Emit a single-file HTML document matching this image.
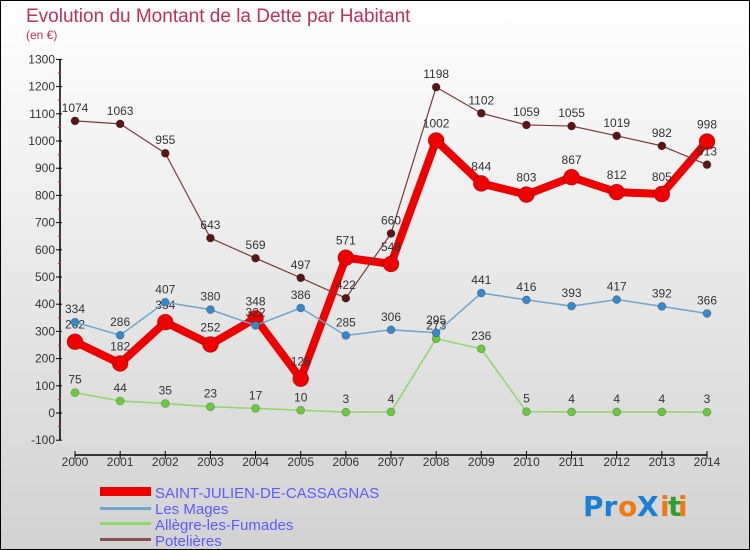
<!DOCTYPE html>
<html><head><meta charset="utf-8">
<style>
html,body{margin:0;padding:0}
body{width:750px;height:550px;overflow:hidden;font-family:"Liberation Sans",sans-serif}
svg{display:block}
</style></head>
<body>
<svg id="chart" width="750" height="550" xmlns="http://www.w3.org/2000/svg">
<defs>
<linearGradient id="bg" x1="0" y1="0" x2="0" y2="1">
<stop offset="0" stop-color="#ffffff"/><stop offset="1" stop-color="#d2d2d2"/>
</linearGradient>
</defs>
<rect x="0.5" y="0.5" width="749" height="549" fill="url(#bg)" stroke="#000" stroke-width="1"/>
<text x="26" y="22" font-size="19" fill="#c0305a">Evolution du Montant de la Dette par Habitant</text>
<text x="26" y="39" font-size="12" fill="#c0305a">(en €)</text>
<g id="axes"></g>
<g id="series"></g>
<g id="legend">
<rect x="100" y="487" width="51" height="9" fill="#ee0000"/>
<text x="155" y="498" font-size="15" fill="#5b5bff">SAINT-JULIEN-DE-CASSAGNAS</text>
<rect x="100" y="507" width="51" height="3" fill="#6fa6cc"/>
<text x="155" y="514" font-size="15" fill="#5b5bff">Les Mages</text>
<rect x="100" y="522" width="51" height="3" fill="#8ed86a"/>
<text x="155" y="530" font-size="15" fill="#5b5bff">Allègre-les-Fumades</text>
<rect x="100" y="538" width="51" height="3" fill="#8a5050"/>
<text x="155" y="546" font-size="15" fill="#5b5bff">Potelières</text>
</g>
<g font-size="28" font-weight="bold" font-family="'DejaVu Sans',sans-serif">
<text x="583" y="516" fill="#1a7fd4">Pr</text><text x="618" y="516" fill="#f07a10">o</text><text x="637" y="516" fill="#1a7fd4">X</text><text x="660" y="516" fill="#f07a10">i</text><text x="668" y="516" fill="#2fa030">t</text><text x="678" y="516" fill="#f07a10">i</text>
</g>
</svg>
<script>
const years=[2000,2001,2002,2003,2004,2005,2006,2007,2008,2009,2010,2011,2012,2013,2014];
const yTicks=[-100,0,100,200,300,400,500,600,700,800,900,1000,1100,1200,1300];
const saintJulien=[262,182,334,252,348,126,571,548,1002,844,803,867,812,805,998];
const lesMages=[334,286,407,380,322,386,285,306,295,441,416,393,417,392,366];
const allegre=[75,44,35,23,17,10,3,4,273,236,5,4,4,4,3];
const potelieres=[1074,1063,955,643,569,497,422,660,1198,1102,1059,1055,1019,982,913];

const NS="http://www.w3.org/2000/svg";
function xs(i){return 75+(707-75)*(years[i]-2000)/(2014-2000);}
function ys(v){return 413-v*(353.6/1300);}
function mk(tag,attrs,parent){const e=document.createElementNS(NS,tag);for(const k in attrs)e.setAttribute(k,attrs[k]);parent.appendChild(e);return e;}
const axes=document.getElementById('axes');
const ax=mk('line',{x1:60,y1:ys(1300),x2:60,y2:ys(-100),stroke:'#000','stroke-width':1.5},axes);


yTicks.forEach(t=>{
  const y=ys(t);
  mk('line',{x1:56,y1:y,x2:62,y2:y,stroke:'#000'},axes);
  if(t<1300) mk('line',{x1:58,y1:ys(t+50),x2:61,y2:ys(t+50),stroke:'#e02020'},axes);
  const tx=mk('text',{x:55,y:y+4,'font-size':12,fill:'#333','text-anchor':'end'},axes);
  tx.textContent=t;
  
  
});
const xa=mk('line',{x1:75,y1:455,x2:707,y2:455,stroke:'#000','stroke-width':1.5},axes);


years.forEach((yr,i)=>{
  const x=xs(i);
  mk('line',{x1:x,y1:451,x2:x,y2:459,stroke:'#000'},axes);
  const tx=mk('text',{x:x,y:466,'font-size':12,fill:'#333','text-anchor':'middle'},axes);
  tx.textContent=yr;
  
  
});
const sg=document.getElementById('series');
function drawSeries(vals,name,color,width,r,dot){
  const g=mk('g',{},sg);
  
  
  const pts=vals.map((v,i)=>xs(i)+','+ys(v)).join(' ');
  const pl=mk('polyline',{points:pts,fill:'none',stroke:color,'stroke-width':width,'stroke-linejoin':'round'},g);
  
  
  vals.forEach((v,i)=>{
    const c=mk('circle',{cx:xs(i),cy:ys(v),r:r,fill:dot,stroke:'rgba(0,0,0,0.25)','stroke-width':0.8},g);
    
    
    const t=mk('text',{x:xs(i),y:ys(v)-r-5,'font-size':12,fill:'#333','text-anchor':'middle'},g);
    t.textContent=v;
    
    
  });
}
drawSeries(saintJulien,'saint-julien','#ee0000',8,8,'#ee0000');
drawSeries(potelieres,'potelieres','#7a3a3a',1.2,4,'#5a1515');
drawSeries(allegre,'allegre','#8ed86a',1.5,4,'#6cc840');
drawSeries(lesMages,'les-mages','#6fa6cc',1.5,4,'#3a88c8');
</script>
</body></html>
